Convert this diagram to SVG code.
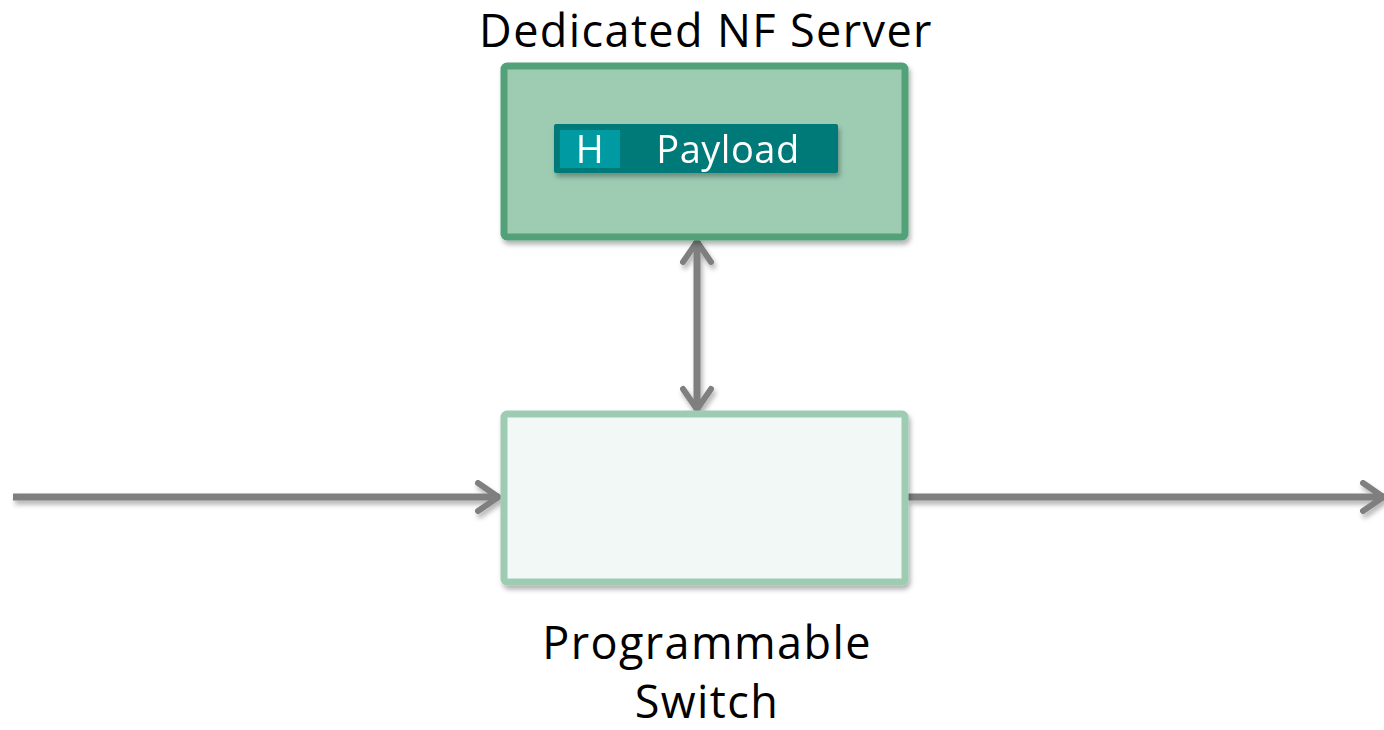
<svg xmlns="http://www.w3.org/2000/svg" width="1384" height="730" viewBox="0 0 1384 730">
<style>
.lbl{font-family:"Open Sans","Liberation Sans",sans-serif;fill:#000;text-anchor:middle;font-size:45px;letter-spacing:1.4px}
.pk{font-family:"Open Sans","Liberation Sans",sans-serif;fill:#fff;text-anchor:middle;font-size:38px;letter-spacing:0.5px}
.conn{stroke:#7f7f7f;stroke-width:7;fill:none;stroke-linecap:butt}
</style>
<defs>
<filter id="sh" x="-20%" y="-20%" width="140%" height="150%">
<feDropShadow dx="2" dy="4" stdDeviation="2.5" flood-color="#000" flood-opacity="0.3"/>
</filter>
<marker id="chev" viewBox="0 0 10 10" refX="8.2" refY="5" markerWidth="5" markerHeight="5" orient="auto-start-reverse" markerUnits="strokeWidth">
<path d="M2.2,1 L8,5 L2.2,9" fill="none" stroke="#7f7f7f" stroke-width="1.7" stroke-linecap="round" stroke-linejoin="round"/>
</marker>
</defs>
<rect width="1384" height="730" fill="#fff"/>
<g id="connectors" filter="url(#sh)">
<line class="conn" x1="13" y1="497" x2="499" y2="497" marker-end="url(#chev)"/>
<line class="conn" x1="908" y1="497" x2="1384" y2="497" marker-end="url(#chev)"/>
<line class="conn" x1="697" y1="241" x2="697" y2="410" marker-start="url(#chev)" marker-end="url(#chev)"/>
</g>
<g id="server">
<rect x="504" y="66" width="401" height="171" rx="3" fill="#9dccb3" stroke="#52a178" stroke-width="7" filter="url(#sh)"/>
<text class="lbl" x="706" y="47">Dedicated NF Server</text>
</g>
<g id="packet" filter="url(#sh)">
<rect x="554" y="124" width="284" height="49" rx="2" fill="#007a78"/>
<rect x="560" y="130" width="60" height="38" fill="#009aa3"/>
<text class="pk" x="590" y="163">H</text>
<text class="pk" x="728" y="163">Payload</text>
</g>
<g id="switch">
<rect x="504" y="414" width="401" height="168" rx="3" fill="#f2f8f5" stroke="#9dccb3" stroke-width="7" filter="url(#sh)"/>
<text class="lbl" x="707" y="659">Programmable</text>
<text class="lbl" x="707" y="718">Switch</text>
</g>
</svg>
